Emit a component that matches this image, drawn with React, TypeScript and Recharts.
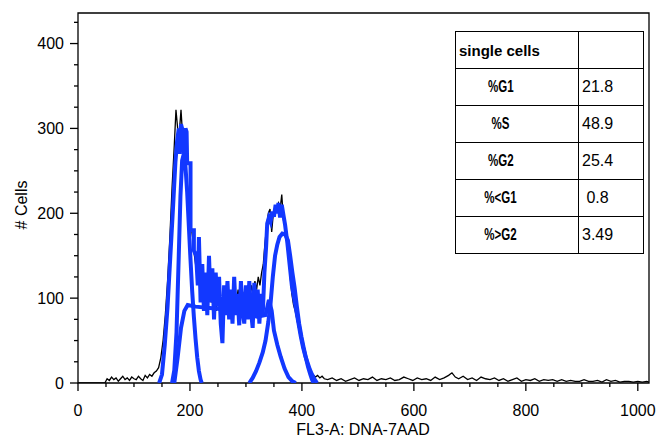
import React from 'react';
import { LineChart, Line, XAxis, YAxis, ReferenceArea } from 'recharts';

// [channel, count] pairs
const histogram: [number, number][] = [
  [0, 0], [48, 0], [52, 5], [56, 3], [60, 7], [64, 4], [68, 6], [72, 2], [76, 5], [80, 8],
  [84, 4], [88, 6], [92, 3], [96, 7], [100, 5], [104, 4], [108, 8], [112, 5], [116, 3], [120, 9],
  [124, 6], [128, 10], [132, 8], [136, 12], [140, 14], [144, 18], [148, 30], [152, 50], [156, 80], [160, 120],
  [164, 170], [168, 230], [172, 280], [175, 322], [178, 300], [181, 295], [184, 322], [187, 290], [190, 265], [193, 250],
  [196, 230], [199, 200], [202, 185], [205, 170], [208, 150], [211, 135], [214, 145], [217, 120], [220, 130], [223, 115],
  [226, 110], [229, 120], [232, 100], [235, 125], [238, 95], [241, 115], [244, 105], [247, 85], [250, 110], [253, 95],
  [256, 80], [259, 105], [262, 100], [265, 90], [268, 110], [271, 95], [274, 100], [277, 85], [280, 105], [283, 95],
  [286, 110], [289, 90], [292, 100], [295, 105], [298, 95], [301, 100], [304, 110], [307, 100], [310, 115], [313, 105],
  [316, 120], [319, 110], [322, 125], [325, 115], [328, 130], [331, 140], [334, 165], [337, 185], [340, 200], [343, 205],
  [346, 178], [349, 200], [352, 208], [355, 205], [358, 212], [361, 205], [364, 222], [367, 192], [370, 185], [373, 170],
  [376, 150], [379, 125], [382, 105], [385, 92], [388, 85], [391, 75], [394, 65], [397, 58], [400, 48], [403, 40],
  [406, 32], [409, 25], [412, 18], [415, 13], [418, 10], [421, 9], [424, 7], [428, 9], [432, 6], [436, 8],
  [440, 5], [446, 4], [454, 6], [462, 3], [470, 5], [478, 2], [486, 4], [494, 6], [502, 3], [510, 5],
  [518, 4], [526, 7], [534, 3], [542, 5], [550, 4], [558, 6], [566, 3], [574, 4], [582, 7], [590, 5],
  [598, 3], [606, 6], [614, 4], [622, 5], [630, 3], [638, 7], [646, 4], [654, 6], [662, 9], [668, 12],
  [674, 7], [680, 5], [688, 8], [696, 4], [704, 6], [712, 3], [720, 7], [728, 5], [736, 4], [744, 6],
  [752, 3], [760, 5], [768, 2], [776, 4], [784, 6], [792, 2], [800, 4], [808, 3], [816, 5], [824, 2],
  [832, 4], [840, 3], [848, 4], [856, 2], [864, 4], [872, 2], [880, 3], [888, 2], [896, 2], [904, 4],
  [912, 2], [920, 2], [928, 3], [936, 1], [944, 4], [952, 2], [960, 3], [968, 1], [976, 2], [984, 2],
  [992, 1], [1000, 2], [1008, 1], [1016, 2], [1020, 1],
];

// gated events (thick blue trace)
const gated: [number, number][] = [
  [145, 0], [150, 10], [155, 45], [160, 90], [165, 150], [170, 210], [174, 260], [177, 285], [180, 300], [182, 270],
  [184, 305], [186, 300], [188, 298], [190, 260], [192, 300], [194, 296], [195, 259], [201, 259], [201, 180], [207, 180],
  [207, 156], [211, 150], [214, 115], [216, 172], [219, 95], [222, 140], [225, 85], [228, 130], [231, 80], [234, 150],
  [237, 95], [240, 135], [243, 75], [246, 130], [249, 90], [252, 125], [255, 70], [258, 47], [261, 115], [264, 80],
  [267, 120], [270, 75], [273, 110], [276, 70], [279, 125], [282, 80], [285, 105], [288, 68], [291, 120], [294, 85],
  [297, 70], [300, 115], [303, 75], [306, 120], [309, 85], [312, 65], [315, 118], [318, 80], [321, 110], [324, 70],
  [327, 105], [330, 80], [333, 130], [336, 160], [338, 188], [341, 195], [344, 190], [347, 202], [350, 196], [353, 210],
  [356, 200], [358, 212], [361, 195], [364, 210], [367, 198], [370, 186], [374, 165], [378, 140], [382, 115], [386, 100],
  [390, 85], [394, 70], [398, 55], [402, 42], [406, 32], [410, 24], [414, 16], [418, 10], [422, 5], [427, 0],
];

const g1Fit: [number, number][] = [
  [168, 0], [172, 15], [176, 60], [180, 150], [183, 220], [186, 262], [189, 270], [192, 255], [195, 225], [198, 185],
  [201, 145], [204, 108], [207, 78], [210, 52], [213, 30], [216, 14], [219, 4], [221, 0],
];

const sFit: [number, number][] = [
  [172, 0], [178, 30], [184, 65], [190, 85], [196, 92], [210, 90], [240, 88], [270, 86], [300, 82], [320, 78],
  [335, 80], [341, 98], [346, 85], [350, 62], [356, 45], [362, 31], [369, 17], [376, 7], [383, 2], [389, 0],
];

const g2Fit: [number, number][] = [
  [306, 0], [312, 6], [318, 14], [324, 24], [330, 36], [335, 50], [340, 72], [344, 94], [348, 125], [352, 150],
  [356, 163], [360, 172], [365, 176], [370, 175], [375, 168], [379, 150], [383, 130], [387, 112], [391, 90], [395, 70],
  [399, 55], [403, 42], [407, 30], [411, 19], [415, 10], [418, 4], [421, 0],
];

const xTicks = [0, 50, 100, 150, 200, 250, 300, 350, 400, 450, 500, 550, 600, 650, 700, 750, 800, 850, 900, 950, 1000];
const yTicks = [0, 25, 50, 75, 100, 125, 150, 175, 200, 225, 250, 275, 300, 325, 350, 375, 400, 425];

const phaseLabels = ['%G1', '%S', '%G2', '%<G1', '%>G2'];
const phaseValues = ['21.8', '48.9', '25.4', '\u00a00.8', '3.49'];

const FONT = '"Liberation Sans", Arial, sans-serif';
const BLUE = '#1238ff';

const toPoints = (rows: [number, number][]) => rows.map(([x, y]) => ({ x, y }));

const XTick = (props: any) => {
  const { x, y, payload } = props;
  const major = payload.value % 200 === 0;
  return (
    <g>
      <line x1={x} x2={x} y1={y} y2={y + (major ? 8 : 4)} stroke="#000" strokeWidth={1.3} />
      {major && (
        <text x={x} y={y + 33} textAnchor="middle" fontSize={16} fontFamily={FONT} fill="#000">
          {payload.value}
        </text>
      )}
    </g>
  );
};

const YTick = (props: any) => {
  const { x, y, payload } = props;
  const major = payload.value % 100 === 0;
  return (
    <g>
      <line x1={x - (major ? 8 : 4)} x2={x} y1={y} y2={y} stroke="#000" strokeWidth={1.3} />
      {major && (
        <text x={x - 14} y={y} dy="0.35em" textAnchor="end" fontSize={16} fontFamily={FONT} fill="#000">
          {payload.value}
        </text>
      )}
    </g>
  );
};

const cell: React.CSSProperties = {
  border: '1px solid #000',
  padding: 0,
  height: 36,
  fontSize: 16,
  overflow: 'hidden',
  whiteSpace: 'nowrap',
};

export default function App() {
  return (
    <div style={{ position: 'absolute', left: 0, top: 0, width: 657, height: 439, background: '#fff', fontFamily: FONT }}>
      <LineChart width={657} height={439} margin={{ top: 13, right: 8, bottom: 0, left: 18 }}>
        <XAxis
          dataKey="x"
          type="number"
          domain={[0, 1020]}
          ticks={xTicks}
          allowDataOverflow
          axisLine={false}
          tickLine={false}
          tickSize={0}
          tickMargin={0}
          height={56}
          tick={<XTick />}
          interval={0}
        />
        <YAxis
          dataKey="y"
          type="number"
          domain={[0, 436]}
          ticks={yTicks}
          allowDataOverflow
          axisLine={false}
          tickLine={false}
          tickSize={0}
          tickMargin={0}
          width={60}
          tick={<YTick />}
          interval={0}
        />
        <ReferenceArea x1={0} x2={1020} y1={0} y2={436} fill="none" stroke="#000" strokeWidth={1.3} />
        <Line data={toPoints(histogram)} dataKey="y" stroke="#000" strokeWidth={1.3} dot={false} isAnimationActive={false} />
        <Line data={toPoints(sFit)} dataKey="y" stroke={BLUE} strokeWidth={4} dot={false} isAnimationActive={false} />
        <Line data={toPoints(g1Fit)} dataKey="y" stroke={BLUE} strokeWidth={4} dot={false} isAnimationActive={false} />
        <Line data={toPoints(g2Fit)} dataKey="y" stroke={BLUE} strokeWidth={4} dot={false} isAnimationActive={false} />
        <Line data={toPoints(gated)} dataKey="y" stroke={BLUE} strokeWidth={4} dot={false} isAnimationActive={false} />
      </LineChart>

      <div
        style={{
          position: 'absolute',
          left: 22,
          top: 205,
          transform: 'translate(-50%, -50%) rotate(-90deg)',
          fontSize: 16,
          whiteSpace: 'nowrap',
        }}
      >
        # Cells
      </div>
      <div style={{ position: 'absolute', left: 363, top: 430, transform: 'translate(-50%, -50%)', fontSize: 16, whiteSpace: 'nowrap' }}>
        FL3-A: DNA-7AAD
      </div>

      <table
        style={{
          position: 'absolute',
          left: 455,
          top: 31,
          width: 188,
          tableLayout: 'fixed',
          borderCollapse: 'collapse',
          background: '#fff',
          fontFamily: FONT,
        }}
      >
        <colgroup>
          <col style={{ width: 123 }} />
          <col style={{ width: 65 }} />
        </colgroup>
        <tbody>
          <tr>
            <td style={{ ...cell, fontWeight: 'bold', fontSize: 15, paddingLeft: 3 }}>single cells</td>
            <td style={cell}></td>
          </tr>
          {phaseLabels.map((label, i) => (
            <tr key={label}>
              <td style={{ ...cell, textAlign: 'center', paddingRight: 33 }}>
                <span style={{ display: 'inline-block', fontWeight: 'bold', fontSize: 16, transform: 'scaleX(0.72)' }}>{label}</span>
              </td>
              <td style={{ ...cell, paddingLeft: 3 }}>{phaseValues[i]}</td>
            </tr>
          ))}
        </tbody>
      </table>
    </div>
  );
}
